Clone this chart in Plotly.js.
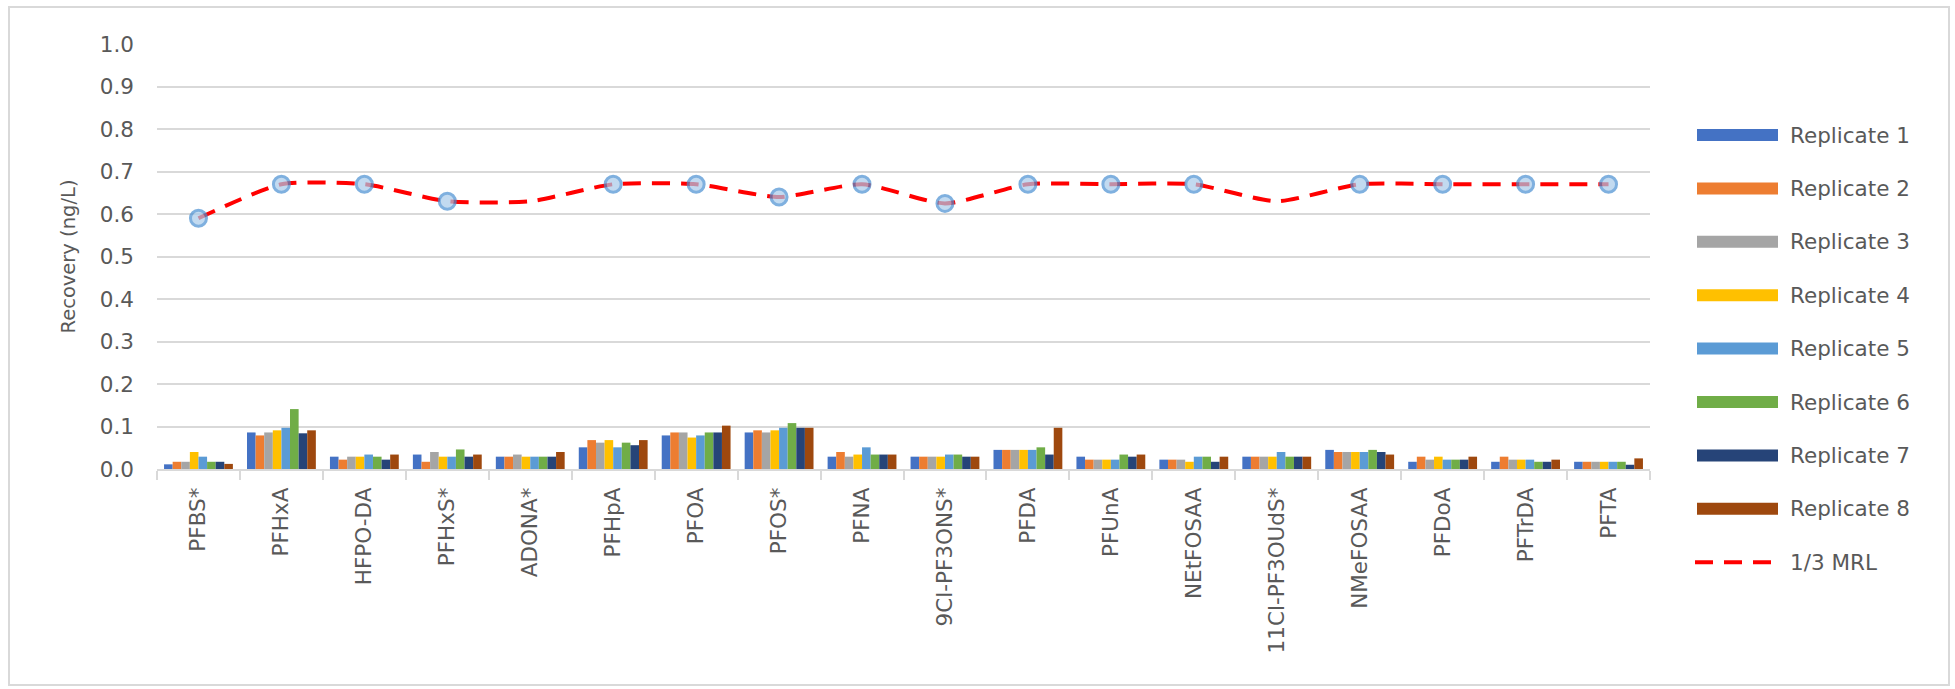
<!DOCTYPE html>
<html>
<head>
<meta charset="utf-8">
<script src="https://cdn.plot.ly/plotly-3.0.1.min.js"></script>
<style>
  html, body { margin: 0; padding: 0; background: #ffffff; }
  #wrap { position: relative; width: 1955px; height: 689px; overflow: hidden; }
  #chart { position: absolute; left: 0; top: 0; width: 1955px; height: 689px; }
  #frame { position: absolute; left: 8px; top: 6px; width: 1938px; height: 676px;
           border: 2px solid #d9d9d9; pointer-events: none; }
</style>
</head>
<body>
<div id="wrap">
  <div id="chart"></div>
  <div id="frame"></div>
</div>
<script>
// ---------- data ----------
const categories = ["PFBS*", "PFHxA", "HFPO-DA", "PFHxS*", "ADONA*", "PFHpA", "PFOA", "PFOS*", "PFNA",
  "9Cl-PF3ONS*", "PFDA", "PFUnA", "NEtFOSAA", "11Cl-PF3OUdS*", "NMeFOSAA", "PFDoA", "PFTrDA", "PFTA"];

const replicate1 = [0.011, 0.086, 0.029, 0.034, 0.029, 0.051, 0.079, 0.086, 0.029, 0.029, 0.045, 0.029, 0.022, 0.029, 0.045, 0.017, 0.017, 0.017];
const replicate2 = [0.017, 0.079, 0.022, 0.017, 0.029, 0.068, 0.086, 0.091, 0.040, 0.029, 0.045, 0.022, 0.022, 0.029, 0.040, 0.029, 0.029, 0.017];
const replicate3 = [0.017, 0.086, 0.029, 0.040, 0.034, 0.062, 0.086, 0.086, 0.029, 0.029, 0.045, 0.022, 0.022, 0.029, 0.040, 0.022, 0.022, 0.017];
const replicate4 = [0.040, 0.091, 0.029, 0.029, 0.029, 0.068, 0.074, 0.091, 0.034, 0.029, 0.045, 0.022, 0.017, 0.029, 0.040, 0.029, 0.022, 0.017];
const replicate5 = [0.029, 0.097, 0.034, 0.029, 0.029, 0.051, 0.079, 0.097, 0.051, 0.034, 0.045, 0.022, 0.029, 0.040, 0.040, 0.022, 0.022, 0.017];
const replicate6 = [0.017, 0.141, 0.029, 0.046, 0.029, 0.062, 0.086, 0.108, 0.034, 0.034, 0.051, 0.034, 0.029, 0.029, 0.045, 0.022, 0.017, 0.017];
const replicate7 = [0.017, 0.084, 0.022, 0.029, 0.029, 0.056, 0.086, 0.097, 0.034, 0.029, 0.034, 0.029, 0.017, 0.029, 0.040, 0.022, 0.017, 0.010];
const replicate8 = [0.012, 0.091, 0.034, 0.034, 0.040, 0.068, 0.102, 0.097, 0.034, 0.029, 0.097, 0.034, 0.029, 0.029, 0.034, 0.029, 0.022, 0.025];

const mrlThird = [0.59, 0.67, 0.67, 0.63, 0.63, 0.67, 0.67, 0.64, 0.67, 0.625, 0.67, 0.67, 0.67, 0.63, 0.67, 0.67, 0.67, 0.67];
const noMarker = ["ADONA*", "11Cl-PF3OUdS*"];

const seriesNames = ["Replicate 1", "Replicate 2", "Replicate 3", "Replicate 4",
  "Replicate 5", "Replicate 6", "Replicate 7", "Replicate 8"];
const lineName = "1/3 MRL";
const yTickValues = [0, 0.1, 0.2, 0.3, 0.4, 0.5, 0.6, 0.7, 0.8, 0.9, 1.0];

// ---------- style ----------
const colors = ["#4472C4", "#ED7D31", "#A5A5A5", "#FFC000", "#5B9BD5", "#70AD47", "#264478", "#9E480E"];
const FONT = "DejaVu Sans, Open Sans, sans-serif";
const TXT = "#595959";
const W = 1955, H = 689;
const M = { l: 157, r: 305, t: 44, b: 220 };
const plotW = W - M.l - M.r, plotH = H - M.t - M.b;
const px2x = p => (p - M.l) / plotW;
const px2y = p => (H - M.b - p) / plotH;

const replicates = [replicate1, replicate2, replicate3, replicate4, replicate5, replicate6, replicate7, replicate8];

const traces = replicates.map((vals, i) => ({
  type: "bar",
  name: seriesNames[i],
  x: categories,
  y: vals,
  marker: { color: colors[i], line: { width: 0 } },
  showlegend: false,
  hoverinfo: "x+y+name"
}));

traces.push({
  type: "scatter",
  mode: "lines+markers",
  name: lineName,
  x: categories,
  y: mrlThird,
  line: { color: "#FF0000", width: 4, dash: "18px,11px", shape: "spline", smoothing: 0.6 },
  marker: {
    symbol: "circle",
    size: categories.map(c => noMarker.includes(c) ? 0 : 16),
    color: "#A9CBEB",
    line: { color: "#4A90D2", width: 3 }
  },
  showlegend: false
});

// ---------- custom legend (Excel-style wide swatches) ----------
const shapes = [];
const annotations = [];
const legendTop = 135, legendStep = 53.4;
const swL = 1697, swR = 1778, txtX = 1788;
seriesNames.forEach((n, i) => {
  const cy = legendTop + i * legendStep;
  shapes.push({
    type: "rect", xref: "paper", yref: "paper",
    x0: px2x(swL), x1: px2x(swR), y0: px2y(cy - 6), y1: px2y(cy + 6),
    fillcolor: colors[i], line: { width: 0 }
  });
  annotations.push({
    xref: "paper", yref: "paper", x: px2x(txtX), y: px2y(cy),
    xanchor: "left", yanchor: "middle", showarrow: false,
    text: n, font: { family: FONT, size: 21.5, color: TXT }
  });
});
{
  const cy = legendTop + 8 * legendStep;
  shapes.push({
    type: "line", xref: "paper", yref: "paper",
    x0: px2x(swL - 2), x1: px2x(swR + 2), y0: px2y(cy), y1: px2y(cy),
    line: { color: "#FF0000", width: 4, dash: "18px,11px" }
  });
  annotations.push({
    xref: "paper", yref: "paper", x: px2x(txtX), y: px2y(cy),
    xanchor: "left", yanchor: "middle", showarrow: false,
    text: lineName, font: { family: FONT, size: 21.5, color: TXT }
  });
}

const layout = {
  width: W, height: H,
  margin: M,
  paper_bgcolor: "#ffffff",
  plot_bgcolor: "#ffffff",
  showlegend: false,
  barmode: "group",
  bargap: 0.17,
  bargroupgap: 0,
  font: { family: FONT, color: TXT, size: 20 },
  xaxis: {
    type: "category",
    categoryorder: "array",
    categoryarray: categories,
    range: [-0.5, categories.length - 0.5],
    autorange: false,
    tickangle: -90,
    tickson: "boundaries",
    ticks: "outside",
    ticklen: 9,
    tickwidth: 2,
    tickcolor: "#d9d9d9",
    showline: true,
    linecolor: "#d9d9d9",
    linewidth: 2,
    showgrid: false,
    ticklabelstandoff: 8,
    tickfont: { family: FONT, size: 21.5, color: TXT },
    automargin: false
  },
  yaxis: {
    range: [0, 1.0],
    tickvals: yTickValues,
    tickformat: ".1f",
    showgrid: true,
    gridcolor: "#d9d9d9",
    gridwidth: 2,
    zeroline: false,
    showline: false,
    ticks: "",
    ticklabelstandoff: 22,
    tickfont: { family: FONT, size: 21.5, color: TXT },
    title: { text: "Recovery (ng/L)", font: { family: FONT, size: 19.5, color: TXT }, standoff: 18 },
    automargin: false
  },
  shapes: shapes,
  annotations: annotations
};

Plotly.newPlot("chart", traces, layout, { displayModeBar: false, staticPlot: true });
</script>
</body>
</html>
